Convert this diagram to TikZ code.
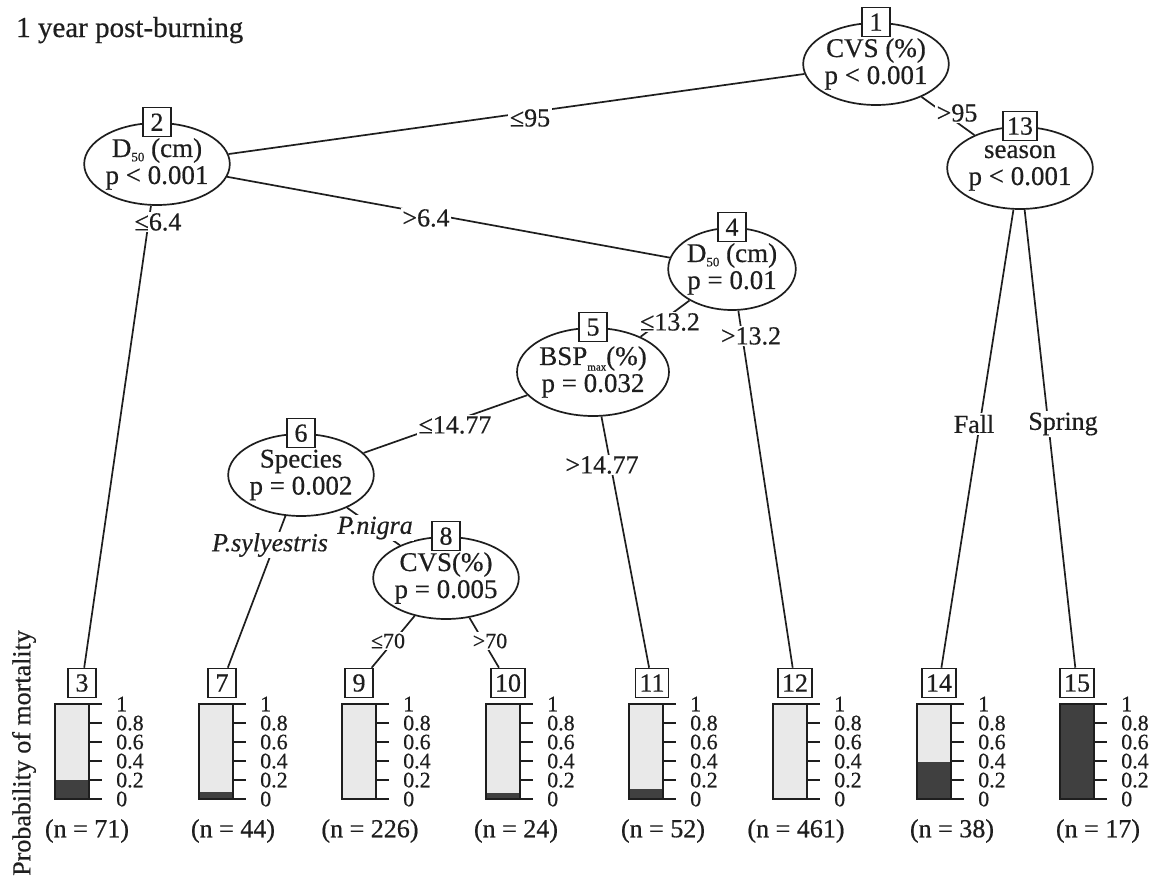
\documentclass[tikz,border=0pt]{standalone}
\usepackage{fontspec}
\setmainfont{Liberation Serif}[FakeBold=0.5]
\usetikzlibrary{shapes.geometric}
\definecolor{lightbar}{HTML}{E9E9E9}
\definecolor{darkbar}{HTML}{404040}
\definecolor{ink}{HTML}{1E1E1E}
\newcommand\leafpanel[6]{%
  \node[numbox] (b#1) at (#2,683) {#1};
  \fill[lightbar] (#3,704) rectangle ++(34,95);
  \fill[darkbar] (#3,799) rectangle ++(34,-95*#4);
  \draw[barline] (#3+34,704) -- (#3,704) -- (#3,799) -- (#3+34,799);
  \draw[barline] (#3+34,704) -- (#3+34,799);
  \foreach \v/\k in {0/0,0.2/1,0.4/2,0.6/3,0.8/4,1/5}{
    \draw[barline] (#3+34,799-19*\k) -- ++(13,0);
    \node[ticklab] at (#3+61,799-19*\k) {\v};
  }
  \node (nl#1) at (#6,831) {(n = #5)};
}
\begin{document}
\begin{tikzpicture}[x=1pt,y=-1pt,
  every node/.style={font=\fontsize{26}{28}\selectfont, inner sep=0pt, text=ink},
  splitnode/.style={draw=ink, ellipse, line width=1.7pt, minimum width=126pt, minimum height=82pt, align=center, fill=white, font=\fontsize{27}{27}\selectfont},
  numbox/.style={draw=ink, line width=1.6pt, fill=white, minimum width=28pt, minimum height=29pt, inner xsep=4pt},
  conn/.style={draw=ink, line width=1.7pt},
  elab/.style={fill=white, inner sep=1.5pt},
  barline/.style={draw=ink, line width=1.8pt},
  ticklab/.style={font=\fontsize{22}{22}\selectfont, anchor=west, text height=14.5pt, text depth=0pt}
]
\useasboundingbox (0,0) rectangle (1154,878);
\fill[white] (0,0) rectangle (1154,878);

% title and axis label
\node[anchor=base west, font=\fontsize{29}{32}\selectfont] (title) at (16,37) {1 year post-burning};
\node[rotate=90, font=\fontsize{26}{28}\selectfont] (ylab) at (24,753) {Probability of mortality};

% inner nodes
\node[splitnode] (n1) at (876,64) {CVS (\%)\\p < 0.001};
\node[splitnode] (n13) at (1020,168) {season\\p < 0.001};
\node[splitnode] (n2) at (157,164) {D\raisebox{-0.35ex}{\fontsize{13}{13}\selectfont 50} (cm)\\p < 0.001};
\node[splitnode] (n4) at (732,269) {D\raisebox{-0.35ex}{\fontsize{13}{13}\selectfont 50} (cm)\\p = 0.01};
\node[splitnode, minimum width=132pt, minimum height=88pt] (n5) at (593,372) {BSP\raisebox{-0.45ex}{\fontsize{11}{11}\selectfont max}(\%)\\p = 0.032};
\node[splitnode] (n6) at (301,475) {Species\\p = 0.002};
\node[splitnode] (n8) at (446,578) {CVS(\%)\\p = 0.005};

\foreach \n/\t in {n1/1,n13/13,n2/2,n4/4,n5/5,n6/6,n8/8}{
  \node[numbox] (t\t) at (\n.north) {\t};
}

% terminal panels
\leafpanel{3}{82}{55}{0.2}{71}{87}
\leafpanel{7}{222}{199}{0.07}{44}{233}
\leafpanel{9}{359}{342}{0}{226}{370}
\leafpanel{10}{508}{486}{0.06}{24}{516}
\leafpanel{11}{652}{629}{0.11}{52}{663}
\leafpanel{12}{795}{773}{0}{461}{796}
\leafpanel{14}{939}{917}{0.39}{38}{952}
\leafpanel{15}{1077}{1060}{1}{17}{1098}

% connectors
\draw[conn] (n1) -- (n2);
\draw[conn] (n1) -- (n13);
\draw[conn] (n2) -- (b3);
\draw[conn] (n2) -- (n4);
\draw[conn] (n4) -- (n5);
\draw[conn] (n4) -- (b12);
\draw[conn] (n5) -- (n6);
\draw[conn] (n5) -- (b11);
\draw[conn] (n6) -- (b7);
\draw[conn] (n6) -- (n8);
\draw[conn] (n8) -- (b9);
\draw[conn] (n8) -- (b10);
\draw[conn] (n13) -- (b14);
\draw[conn] (n13) -- (b15);

% connector labels
\node[elab] (l12) at (530,118) {≤95};
\node[elab] (l113) at (957,113) {>95};
\node[elab] (l23) at (158,222) {≤6.4};
\node[elab] (l24) at (426,218) {>6.4};
\node[elab] (l45) at (670,322) {≤13.2};
\node[elab] (l412) at (751,336) {>13.2};
\node[elab] (l56) at (455,425) {≤14.77};
\node[elab] (l511) at (602,465) {>14.77};
\node[elab] (l67) at (270,545) {\itshape P.sylyestris};
\node[elab] (l68) at (375,528) {\itshape P.nigra};
\node[elab, font=\fontsize{22}{24}\selectfont] (l89) at (388,641) {≤70};
\node[elab, font=\fontsize{22}{24}\selectfont] (l810) at (490,641) {>70};
\node[elab] (l1314) at (974,424) {Fall};
\node[elab] (l1315) at (1063,424) {Spring};
\end{tikzpicture}
\end{document}
